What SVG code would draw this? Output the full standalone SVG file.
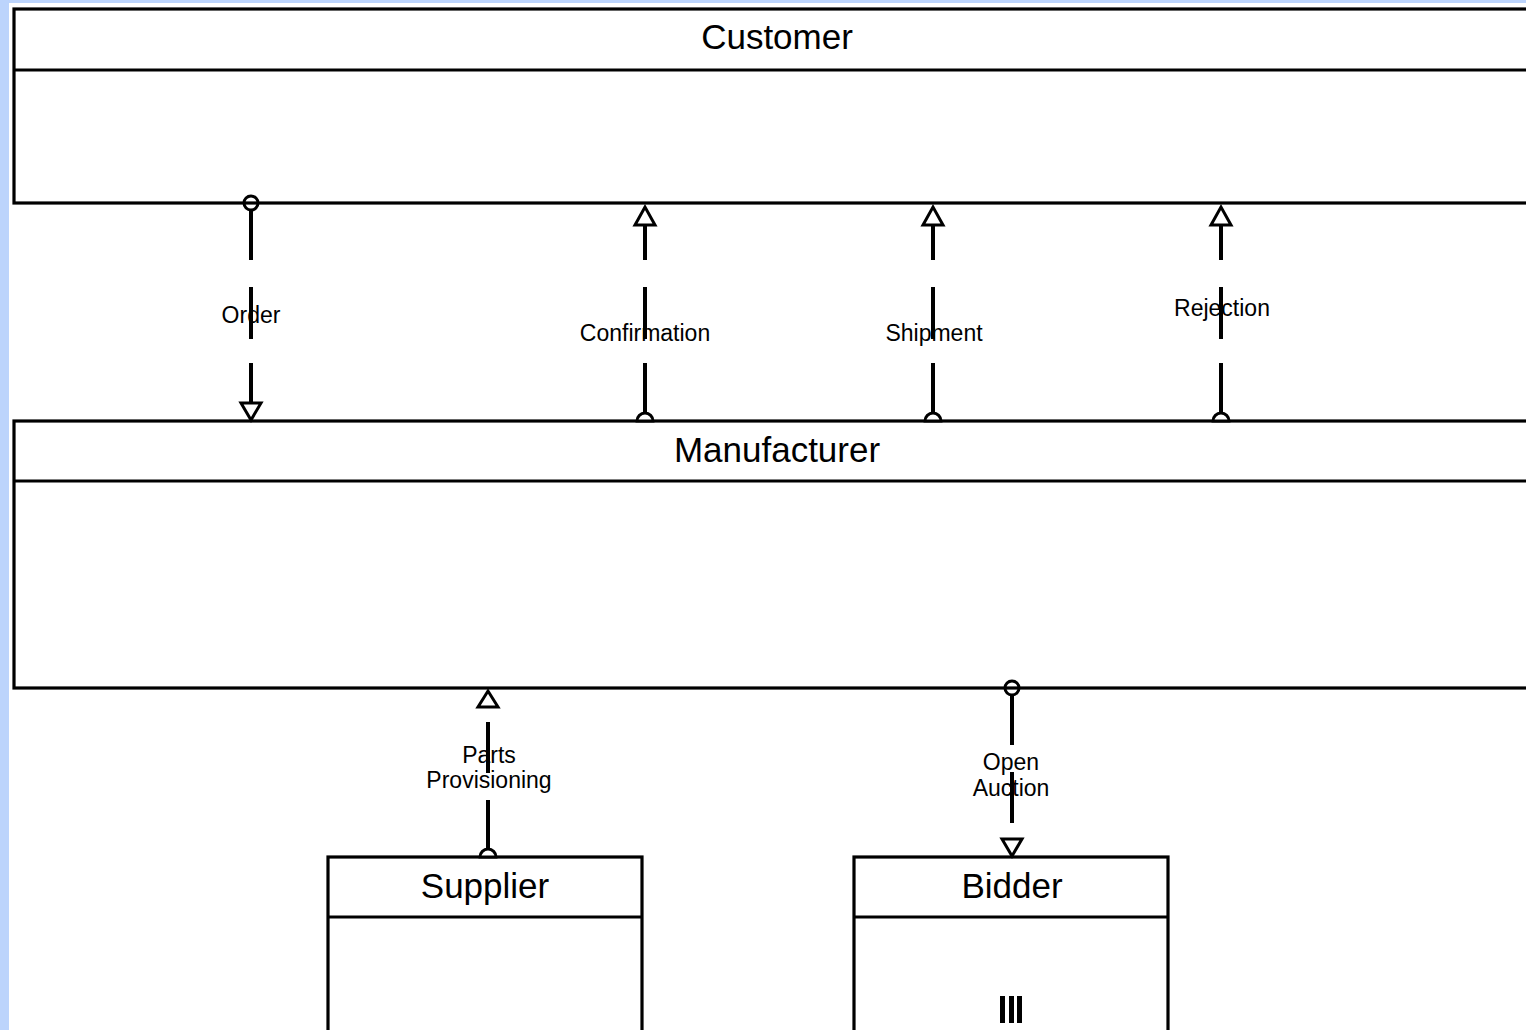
<svg xmlns="http://www.w3.org/2000/svg" width="1526" height="1030" viewBox="0 0 1526 1030">
<style>
.box{fill:#fff;stroke:#000;stroke-width:3.2}
.sep{stroke:#000;stroke-width:3.2}
.title{font-family:"Liberation Sans",Arial,sans-serif;font-size:35px;text-anchor:middle;fill:#000}
.lbl{font-family:"Liberation Sans",Arial,sans-serif;font-size:23px;text-anchor:middle;fill:#000}
.ln{stroke:#000;stroke-width:4;fill:none}
.hd{fill:#fff;stroke:#000;stroke-width:3}
</style>
<rect x="0" y="0" width="1526" height="1030" fill="#bcd4fc"/>
<rect x="9" y="3" width="1517" height="1027" fill="#fff"/>

<g id="customer">
<rect class="box" x="14" y="9" width="1530" height="194"/>
<line class="sep" x1="14" y1="70" x2="1544" y2="70"/>
<text class="title" x="777" y="49">Customer</text>
</g>

<g id="manufacturer">
<rect class="box" x="14" y="421" width="1530" height="267"/>
<line class="sep" x1="14" y1="481" x2="1544" y2="481"/>
<text class="title" x="777" y="462">Manufacturer</text>
</g>

<g id="supplier">
<rect class="box" x="328" y="857" width="314" height="180"/>
<line class="sep" x1="328" y1="917" x2="642" y2="917"/>
<text class="title" x="485" y="898">Supplier</text>
</g>

<g id="bidder">
<rect class="box" x="854" y="857" width="314" height="180"/>
<line class="sep" x1="854" y1="917" x2="1168" y2="917"/>
<text class="title" x="1012" y="898">Bidder</text>
<rect x="1000" y="996" width="5" height="27" fill="#000"/>
<rect x="1009" y="996" width="5" height="27" fill="#000"/>
<rect x="1017" y="996" width="5" height="27" fill="#000"/>
</g>

<g id="connectors">
<g id="c-order">
<line class="ln" x1="251" y1="210" x2="251" y2="260"/>
<line class="ln" x1="251" y1="287" x2="251" y2="339"/>
<line class="ln" x1="251" y1="363" x2="251" y2="403"/>
<circle cx="251" cy="203" r="7" fill="none" stroke="#000" stroke-width="3"/>
<polygon class="hd" points="241,403 261,403 251,420"/>
<text class="lbl" x="251" y="323">Order</text>
</g>
<g id="c-confirmation">
<line class="ln" x1="645" y1="225" x2="645" y2="260"/>
<line class="ln" x1="645" y1="287" x2="645" y2="339"/>
<line class="ln" x1="645" y1="363" x2="645" y2="414"/>
<polygon class="hd" points="635,225 655,225 645,207"/>
<path class="hd" d="M637,421 A8,8 0 0 1 653,421 Z"/>
<text class="lbl" x="645" y="341">Confirmation</text>
</g>
<g id="c-shipment">
<line class="ln" x1="933" y1="225" x2="933" y2="260"/>
<line class="ln" x1="933" y1="287" x2="933" y2="339"/>
<line class="ln" x1="933" y1="363" x2="933" y2="414"/>
<polygon class="hd" points="923,225 943,225 933,207"/>
<path class="hd" d="M925,421 A8,8 0 0 1 941,421 Z"/>
<text class="lbl" x="934" y="341">Shipment</text>
</g>
<g id="c-rejection">
<line class="ln" x1="1221" y1="225" x2="1221" y2="260"/>
<line class="ln" x1="1221" y1="287" x2="1221" y2="339"/>
<line class="ln" x1="1221" y1="363" x2="1221" y2="414"/>
<polygon class="hd" points="1211,225 1231,225 1221,207"/>
<path class="hd" d="M1213,421 A8,8 0 0 1 1229,421 Z"/>
<text class="lbl" x="1222" y="316">Rejection</text>
</g>
<g id="c-parts">
<line class="ln" x1="488" y1="722" x2="488" y2="773"/>
<line class="ln" x1="488" y1="800" x2="488" y2="850"/>
<polygon class="hd" points="478,707 498,707 488,691"/>
<path class="hd" d="M480,857 A8,8 0 0 1 496,857 Z"/>
<text class="lbl" x="489" y="763">Parts</text>
<text class="lbl" x="489" y="788">Provisioning</text>
</g>
<g id="c-auction">
<line class="ln" x1="1012" y1="695" x2="1012" y2="745"/>
<line class="ln" x1="1012" y1="772" x2="1012" y2="823"/>
<circle cx="1012" cy="688" r="7" fill="none" stroke="#000" stroke-width="3"/>
<polygon class="hd" points="1002,839 1022,839 1012,856"/>
<text class="lbl" x="1011" y="770">Open</text>
<text class="lbl" x="1011" y="796">Auction</text>
</g>
</g>
</svg>
